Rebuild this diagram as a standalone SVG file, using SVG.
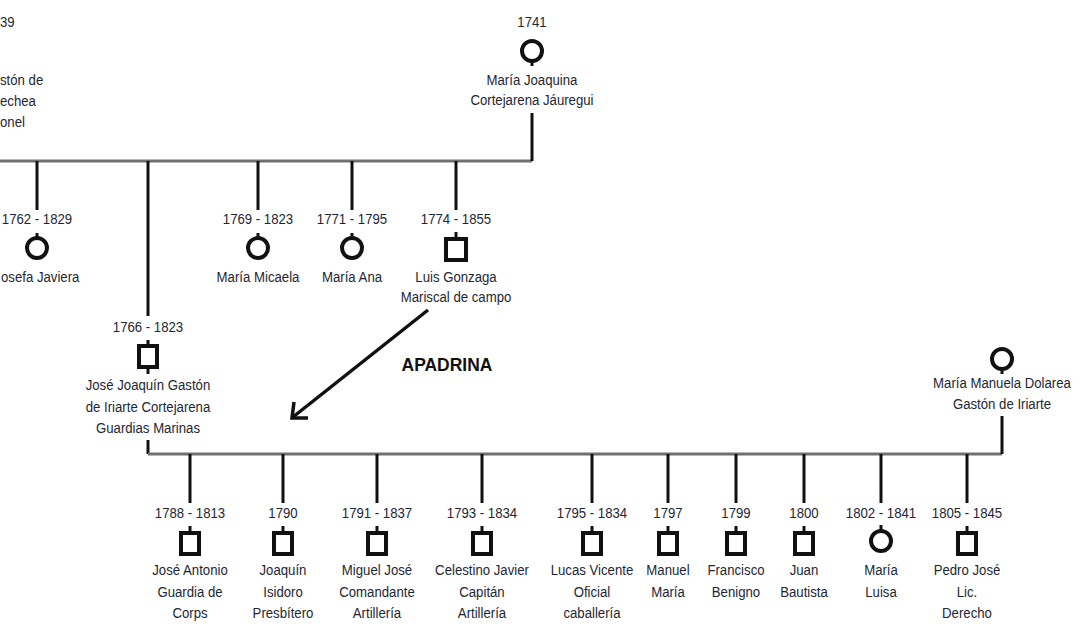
<svg xmlns="http://www.w3.org/2000/svg" width="1084" height="628" viewBox="0 0 1084 628">
<style>
text{font-family:"Liberation Sans",Arial,sans-serif;font-size:15px;fill:#1e2733;text-anchor:middle;transform-box:fill-box;transform-origin:center;transform:scaleX(0.88)}
.l{text-anchor:start;transform-origin:left center}
.bar{stroke:#707070;stroke-width:3;fill:none}
.v{stroke:#111;stroke-width:3;fill:none}
.sym{stroke:#111;stroke-width:4;fill:none}
text.lbl{font-weight:bold;font-size:19px;fill:#111;transform:scaleX(0.92)}
</style>
<rect width="1084" height="628" fill="#fff"/>
<g id="connectors">
<path class="bar" d="M0 161H532"/>
<path class="v" d="M532 113V161"/>
<path class="v" d="M37 161V210M258 161V210M352 161V210M456 161V210"/>
<path class="v" d="M148 161V316"/>
<path class="v" d="M148 440V454"/>
<path class="bar" d="M148 454H1002"/>
<path class="v" d="M1002 416V454"/>
<path class="v" d="M190 454V503M283 454V503M377 454V503M482 454V503M592 454V503M668 454V503M736 454V503M804 454V503M881 454V503M967 454V503"/>
<g id="apadrina">
<path d="M428 310L293 417" stroke="#111" stroke-width="3.5" fill="none"/>
<path d="M294 402L292 418L308 418" stroke="#111" stroke-width="3.5" fill="none"/>
<text class="lbl" x="447" y="371">APADRINA</text>
</g>
</g>
<g id="n-left-parent">
<text class="l" x="0" y="27">39</text>
<text class="l" x="0" y="85">stón de</text>
<text class="l" x="0" y="106">echea</text>
<text class="l" x="0" y="127">onel</text>
</g>
<g id="n-maria-joaquina">
<text x="532" y="27">1741</text>
<circle class="sym" cx="532" cy="51" r="10"/>
<path class="v" d="M532 61V66"/>
<text x="532" y="85">María Joaquina</text>
<text x="532" y="105">Cortejarena Jáuregui</text>
</g>
<g id="n-josefa">
<text x="37" y="224">1762 - 1829</text>
<path class="v" d="M37 233V238"/>
<circle class="sym" cx="37" cy="248" r="10"/>
<text class="l" x="1" y="282">osefa Javiera</text>
</g>
<g id="n-maria-micaela">
<text x="258" y="224">1769 - 1823</text>
<path class="v" d="M258 233V238"/>
<circle class="sym" cx="258" cy="248" r="10"/>
<text x="258" y="282">María Micaela</text>
</g>
<g id="n-maria-ana">
<text x="352" y="224">1771 - 1795</text>
<path class="v" d="M352 233V238"/>
<circle class="sym" cx="352" cy="248" r="10"/>
<text x="352" y="282">María Ana</text>
</g>
<g id="n-luis-gonzaga">
<text x="456" y="224">1774 - 1855</text>
<path class="v" d="M456 232V239"/>
<rect class="sym" x="446" y="239" width="20" height="21"/>
<text x="456" y="282">Luis Gonzaga</text>
<text x="456" y="302">Mariscal de campo</text>
</g>
<g id="n-jose-joaquin">
<text x="148" y="332">1766 - 1823</text>
<path class="v" d="M148 340V346M148 367V374"/>
<rect class="sym" x="139" y="346" width="18" height="21"/>
<text x="148" y="390">José Joaquín Gastón</text>
<text x="148" y="412">de Iriarte Cortejarena</text>
<text x="148" y="433">Guardias Marinas</text>
</g>
<g id="n-maria-manuela">
<circle class="sym" cx="1002" cy="359" r="10"/>
<path class="v" d="M1002 369V374"/>
<text x="1002" y="388">María Manuela Dolarea</text>
<text x="1002" y="409">Gastón de Iriarte</text>
</g>
<g id="n-jose-antonio">
<text x="190" y="518">1788 - 1813</text>
<path class="v" d="M190 526V533"/>
<rect class="sym" x="181" y="533" width="18" height="21"/>
<text x="190" y="575">José Antonio</text>
<text x="190" y="597">Guardia de</text>
<text x="190" y="618">Corps</text>
</g>
<g id="n-joaquin-isidoro">
<text x="283" y="518">1790</text>
<path class="v" d="M283 526V533"/>
<rect class="sym" x="274" y="533" width="18" height="21"/>
<text x="283" y="575">Joaquín</text>
<text x="283" y="597">Isidoro</text>
<text x="283" y="618">Presbítero</text>
</g>
<g id="n-miguel-jose">
<text x="377" y="518">1791 - 1837</text>
<path class="v" d="M377 526V533"/>
<rect class="sym" x="368" y="533" width="18" height="21"/>
<text x="377" y="575">Miguel José</text>
<text x="377" y="597">Comandante</text>
<text x="377" y="618">Artillería</text>
</g>
<g id="n-celestino">
<text x="482" y="518">1793 - 1834</text>
<path class="v" d="M482 526V533"/>
<rect class="sym" x="473" y="533" width="18" height="21"/>
<text x="482" y="575">Celestino Javier</text>
<text x="482" y="597">Capitán</text>
<text x="482" y="618">Artillería</text>
</g>
<g id="n-lucas">
<text x="592" y="518">1795 - 1834</text>
<path class="v" d="M592 526V533"/>
<rect class="sym" x="583" y="533" width="18" height="21"/>
<text x="592" y="575">Lucas Vicente</text>
<text x="592" y="597">Oficial</text>
<text x="592" y="618">caballería</text>
</g>
<g id="n-manuel">
<text x="668" y="518">1797</text>
<path class="v" d="M668 526V533"/>
<rect class="sym" x="659" y="533" width="18" height="21"/>
<text x="668" y="575">Manuel</text>
<text x="668" y="597">María</text>
</g>
<g id="n-francisco">
<text x="736" y="518">1799</text>
<path class="v" d="M736 526V533"/>
<rect class="sym" x="727" y="533" width="18" height="21"/>
<text x="736" y="575">Francisco</text>
<text x="736" y="597">Benigno</text>
</g>
<g id="n-juan">
<text x="804" y="518">1800</text>
<path class="v" d="M804 526V533"/>
<rect class="sym" x="795" y="533" width="18" height="21"/>
<text x="804" y="575">Juan</text>
<text x="804" y="597">Bautista</text>
</g>
<g id="n-maria-luisa">
<text x="881" y="518">1802 - 1841</text>
<path class="v" d="M881 525V531"/>
<circle class="sym" cx="881" cy="541" r="10"/>
<text x="881" y="575">María</text>
<text x="881" y="597">Luisa</text>
</g>
<g id="n-pedro-jose">
<text x="967" y="518">1805 - 1845</text>
<path class="v" d="M967 526V533"/>
<rect class="sym" x="958" y="533" width="18" height="21"/>
<text x="967" y="575">Pedro José</text>
<text x="967" y="597">Lic.</text>
<text x="967" y="618">Derecho</text>
</g>
</svg>
